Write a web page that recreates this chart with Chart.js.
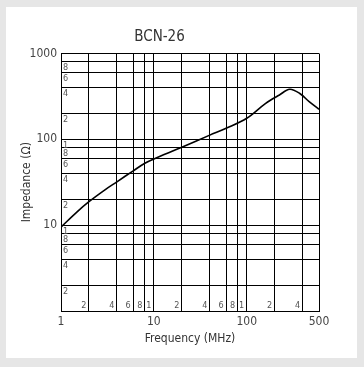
<!DOCTYPE html>
<html>
<head>
<meta charset="utf-8">
<script src="https://cdn.jsdelivr.net/npm/chart.js@4/dist/chart.umd.min.js"></script>
<style>
  html, body { margin: 0; padding: 0; background: #e6e6e6; }
  #wrap { width: 364px; height: 367px; }
</style>
</head>
<body>
<div id="wrap"><canvas id="chart" width="364" height="367"></canvas></div>
<script>
// Courbe (MHz / ohms)
const freq = [1, 1.5, 2, 3, 4, 6, 8, 10, 20, 40, 60, 100, 160, 225, 290, 370, 470, 600];
const impedance = [9.5, 14.4, 18.8, 26, 32, 43, 52.6, 59, 80.7, 112, 134.5, 176, 263, 329, 383, 344, 275, 224];

// Grille du papier log
const xGrid = [1, 2, 4, 6, 8, 10, 20, 40, 60, 80, 100, 200, 400, 600];
const yGrid = [1, 2, 4, 6, 8, 10, 20, 40, 60, 80, 100, 200, 400, 600, 800, 1000];

// Graduations principales
const xMajor = [1, 10, 100, 600];
const xMajorLabels = ["1", "10", "100", "500"];
const yMajor = [10, 100, 1000];
const yMajorLabels = ["10", "100", "1000"];

// Petits chiffres dans le cadre
const xMinor = [2, 4, 6, 8, 10, 20, 40, 60, 80, 100, 200, 400];
const xMinorLabels = ["2", "4", "6", "8", "1", "2", "4", "6", "8", "1", "2", "4"];
const yMinor = [2, 4, 6, 8, 10, 20, 40, 60, 80, 100, 200, 400, 600, 800];
const yMinorLabels = ["2", "4", "6", "8", "1", "2", "4", "6", "8", "1", "2", "4", "6", "8"];

const FONT = "'Liberation Sans Narrow', 'DejaVu Sans Condensed', 'Roboto Condensed', 'Liberation Sans', sans-serif";

const panelBg = {
  id: "panelBg",
  beforeDraw(chart) {
    const { ctx, width, height } = chart;
    ctx.save();
    ctx.fillStyle = "#e6e6e6";
    ctx.fillRect(0, 0, width, height);
    ctx.fillStyle = "#ffffff";
    ctx.fillRect(6, 7, 351, 351);
    ctx.restore();
  },
};

const minorLabels = {
  id: "minorLabels",
  afterDraw(chart) {
    const { ctx, chartArea: a, scales } = chart;
    ctx.save();
    ctx.fillStyle = "#555";
    ctx.font = "9px " + FONT;
    ctx.textAlign = "right";
    ctx.textBaseline = "alphabetic";
    xMinor.forEach((v, i) => {
      const px = scales.x.getPixelForValue(v);
      ctx.fillText(xMinorLabels[i], px - 2.5, a.bottom - 3);
    });
    ctx.textAlign = "left";
    ctx.textBaseline = "top";
    yMinor.forEach((v, i) => {
      const py = scales.y.getPixelForValue(v);
      ctx.fillText(yMinorLabels[i], a.left + 2, py + 1.5);
    });
    ctx.restore();
  },
};

new Chart(document.getElementById("chart"), {
  type: "line",
  data: {
    datasets: [
      {
        data: freq.map((f, i) => ({ x: f, y: impedance[i] })),
        borderColor: "#000",
        borderWidth: 1.6,
        tension: 0.35,
        pointRadius: 0,
        fill: false,
      },
    ],
  },
  options: {
    responsive: false,
    animation: false,
    devicePixelRatio: 1,
    layout: { padding: { top: 0, left: 0, right: 45, bottom: 0 } },
    plugins: {
      legend: { display: false },
      tooltip: { enabled: false },
      title: {
        display: true,
        text: "BCN-26",
        color: "#333",
        font: { family: FONT, size: 15, weight: "normal", lineHeight: 1.2 },
        padding: { top: 28, bottom: 7.5 },
      },
    },
    scales: {
      x: {
        type: "logarithmic",
        min: 1,
        max: 600,
        afterBuildTicks: (s) => { s.ticks = xGrid.map((v) => ({ value: v })); },
        afterFit: (s) => { s.height = 56; },
        ticks: {
          autoSkip: false,
          maxRotation: 0,
          padding: 4,
          color: "#444",
          font: { family: FONT, size: 12 },
          callback: (v) => {
            const i = xMajor.indexOf(v);
            return i >= 0 ? xMajorLabels[i] : "";
          },
        },
        grid: { color: "#000", lineWidth: 1, drawTicks: false },
        border: { color: "#000" },
        title: {
          display: true,
          text: "Frequency (MHz)",
          color: "#333",
          font: { family: FONT, size: 12, lineHeight: 1.2 },
          padding: { top: 0, bottom: 21 },
        },
      },
      y: {
        type: "logarithmic",
        min: 1,
        max: 1000,
        afterBuildTicks: (s) => { s.ticks = yGrid.map((v) => ({ value: v })); },
        afterFit: (s) => { s.width = 61; },
        ticks: {
          autoSkip: false,
          padding: 4,
          color: "#444",
          font: { family: FONT, size: 12 },
          callback: (v) => {
            const i = yMajor.indexOf(v);
            return i >= 0 ? yMajorLabels[i] : "";
          },
        },
        grid: { color: "#000", lineWidth: 1, drawTicks: false },
        border: { color: "#000" },
        title: {
          display: true,
          text: "Impedance (Ω)",
          color: "#333",
          font: { family: FONT, size: 12, lineHeight: 1.2 },
          padding: { top: 20, bottom: 0 },
        },
      },
    },
  },
  plugins: [panelBg, minorLabels],
});
</script>
</body>
</html>
